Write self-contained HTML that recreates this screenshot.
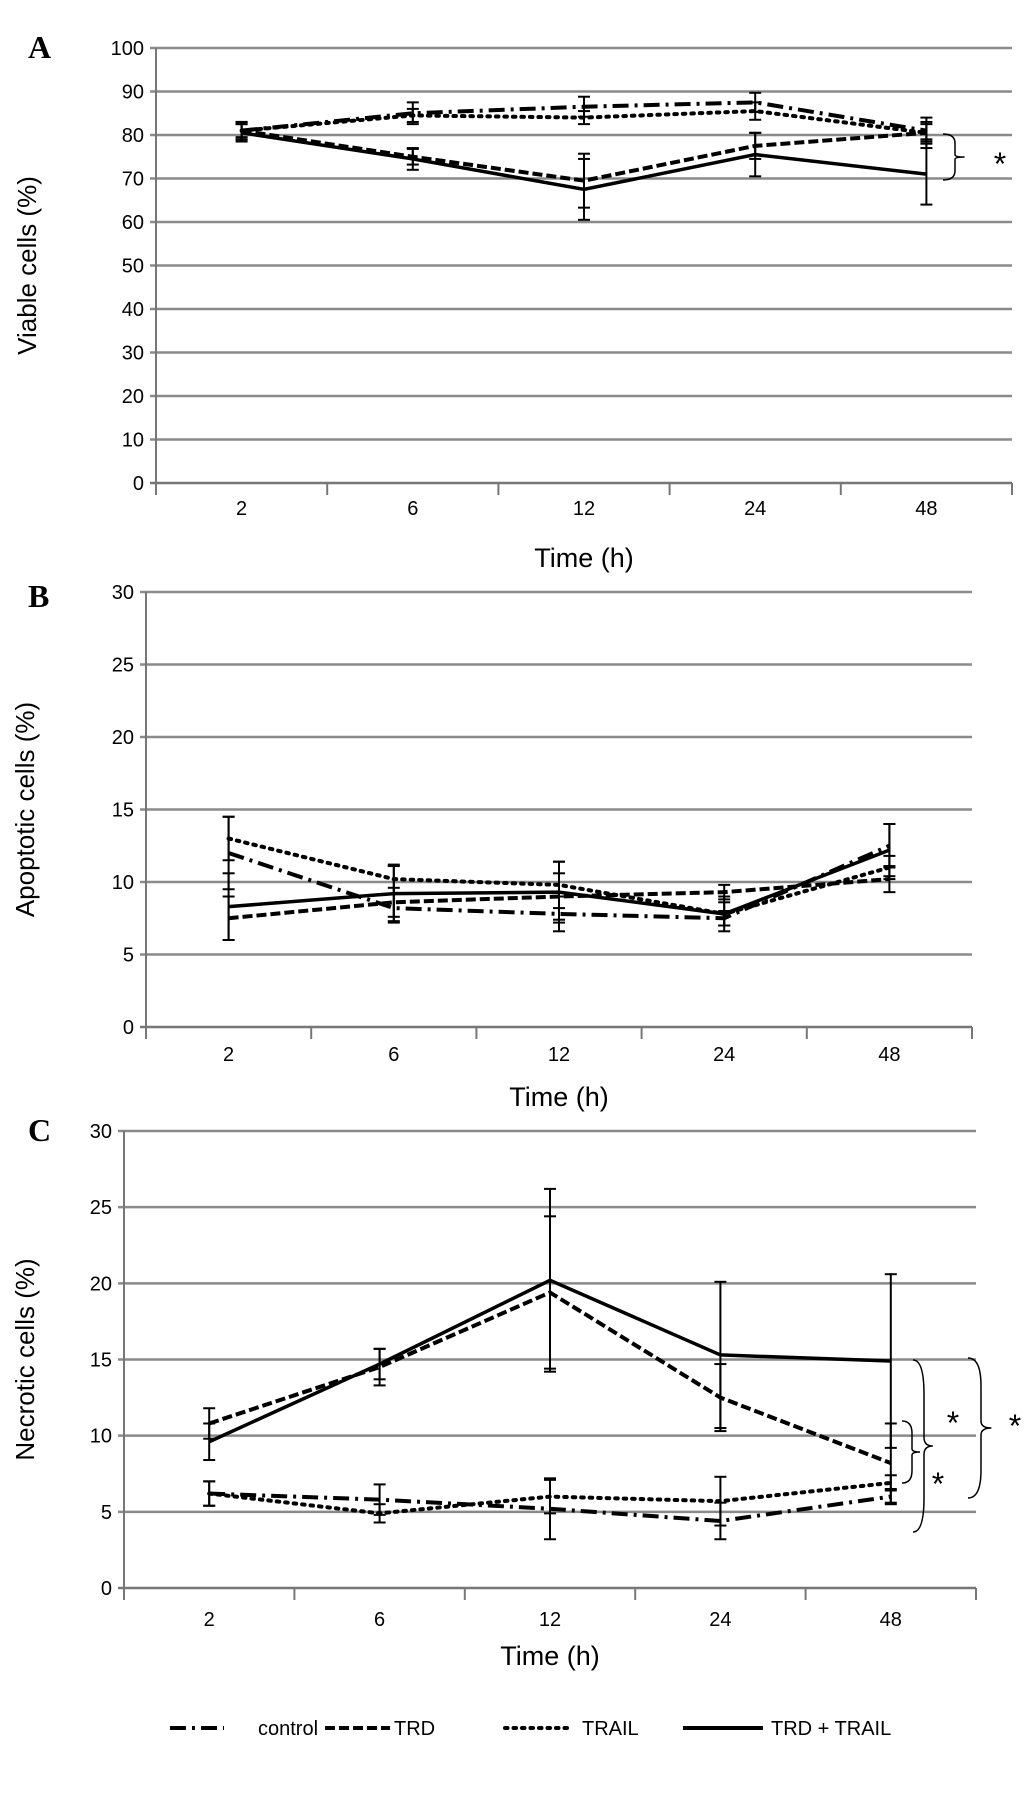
<!DOCTYPE html>
<html><head><meta charset="utf-8"><style>
html,body{margin:0;padding:0;background:#fff;}
svg{display:block;}
.tick{font-family:"Liberation Sans Narrow","Liberation Sans",sans-serif;font-size:20px;fill:#000;}
.ttl{font-family:"Liberation Sans Narrow","Liberation Sans",sans-serif;font-size:27px;fill:#000;}
.yt{font-family:"Liberation Sans",sans-serif;font-size:26px;fill:#000;}
.pl{font-family:"Liberation Serif",serif;font-size:32px;font-weight:bold;fill:#000;}
.star{font-family:"Liberation Sans",sans-serif;font-size:32px;fill:#000;}
</style></head><body>
<svg id="fig" width="1033" height="1793" viewBox="0 0 1033 1793" xmlns="http://www.w3.org/2000/svg"></svg>
<script>
const categories=["2","6","12","24","48"];
const seriesNames=["control","TRD","TRAIL","TRD + TRAIL"];
// Panel A
const aControl=[81,85,86.5,87.5,81];
const aTRD=[81,75,69.5,77.5,80.5];
const aTRAIL=[81,84.5,84,85.5,80.5];
const aCombo=[80.5,74.5,67.5,75.5,71];
const aControlErr=[2,2.5,2.3,2.2,2];
const aTRDErr=[1.5,1.8,6.2,3,3.5];
const aTRAILErr=[2,1.5,1.5,2,2];
const aComboErr=[2,2.5,7,5,7];
const aTicks=[0,10,20,30,40,50,60,70,80,90,100];
// Panel B
const bControl=[12,8.2,7.8,7.5,12.5];
const bTRD=[7.5,8.6,9,9.3,10.2];
const bTRAIL=[13,10.2,9.8,7.8,11];
const bCombo=[8.3,9.2,9.3,7.8,12.2];
const bControlErr=[2.5,1,1.2,0.5,1.5];
const bTRDErr=[1.5,1,1.6,0.5,0.9];
const bTRAILErr=[1.5,1,1.6,0.8,0.8];
const bComboErr=[2.3,1.9,2.1,1.2,1.8];
const bTicks=[0,5,10,15,20,25,30];
// Panel C
const cControl=[6.2,5.8,5.2,4.4,6.0];
const cTRD=[10.8,14.5,19.4,12.5,8.2];
const cTRAIL=[6.2,4.9,6,5.7,6.9];
const cCombo=[9.6,14.7,20.2,15.3,14.9];
const cControlErr=[0.8,1,2,1.2,0.5];
const cTRDErr=[1,1.2,5,2.2,2.6];
const cTRAILErr=[0.8,0.6,1.1,1.6,0.5];
const cComboErr=[1.2,1,6,4.8,5.7];
const cTicks=[0,5,10,15,20,25,30];

const NS="http://www.w3.org/2000/svg";
const svg=document.getElementById('fig');
function mk(tag,attrs,parent){const e=document.createElementNS(NS,tag);for(const k in attrs)e.setAttribute(k,attrs[k]);(parent||svg).appendChild(e);return e;}
const dashes=["16,6,3,6","10,4","2.5,6",""];
const caps=["butt","butt","round","butt"];

function panel(cfg){
  const g=mk('g',{});
  
  
  const L=cfg.left,R=cfg.right,T=cfg.top,B=cfg.bottom,max=cfg.max;
  const cw=(R-L)/categories.length;
  const x=i=>L+cw*(i+0.5);
  const y=v=>B-(v/max)*(B-T);
  cfg.ticks.forEach(t=>{
    const ln=mk('line',{x1:L-6,x2:R,y1:y(t),y2:y(t),stroke:t===0?'#777':'#8a8a8a','stroke-width':2.5},g);
    
    
    const tx=mk('text',{x:L-12,y:y(t)+7,'text-anchor':'end',class:'tick'},g);
    tx.textContent=t;
    
    
  });
  const ax=mk('line',{x1:L,x2:L,y1:T,y2:B+10,stroke:'#777','stroke-width':2},g);
  
  
  for(let i=0;i<=categories.length;i++){
    const tk=mk('line',{x1:L+cw*i,x2:L+cw*i,y1:B,y2:B+12,stroke:'#777','stroke-width':2},g);
    
    
  }
  categories.forEach((c,i)=>{
    const tx=mk('text',{x:x(i),y:cfg.xlabY,'text-anchor':'middle',class:'tick'},g);
    tx.textContent=c;
    
    
  });
  const xt=mk('text',{x:(L+R)/2,y:cfg.xtitleY,'text-anchor':'middle',class:'ttl'},g);
  xt.textContent='Time (h)';
  
  
  const yt=mk('text',{x:0,y:0,'text-anchor':'middle',class:'yt',transform:`translate(${cfg.ytitleX},${(T+B)/2}) rotate(-90)`},g);
  yt.textContent=cfg.ytitle;
  
  
  const pl=mk('text',{x:cfg.lx,y:cfg.ly,class:'pl'},g);
  pl.textContent=cfg.letter;
  
  
  cfg.series.forEach((s,si)=>{
    const eg=mk('g',{},g);
    
    
    s.forEach((v,i)=>{
      const e=cfg.errs[si][i];
      mk('line',{x1:x(i),x2:x(i),y1:y(v+e),y2:y(v-e),stroke:'#000','stroke-width':2},eg);
      mk('line',{x1:x(i)-6,x2:x(i)+6,y1:y(v+e),y2:y(v+e),stroke:'#000','stroke-width':2},eg);
      mk('line',{x1:x(i)-6,x2:x(i)+6,y1:y(v-e),y2:y(v-e),stroke:'#000','stroke-width':2},eg);
    });
    const p=mk('polyline',{points:s.map((v,i)=>x(i)+','+y(v)).join(' '),fill:'none',stroke:'#000','stroke-width':si===3?3.5:4,'stroke-dasharray':dashes[si],'stroke-linecap':caps[si]},g);
    
    
  });
  return g;
}
function brace(x,y1,y2,w,name){
  const m=(y1+y2)/2;
  const p=mk('path',{d:`M${x},${y1} q${w},0 ${w},${(m-y1)*0.4} l0,${(m-y1)*0.5} q0,${(m-y1)*0.1} ${w*0.8},${(m-y1)*0.1} q${-w*0.8},0 ${-w*0.8},${(y2-m)*0.1} l0,${(y2-m)*0.5} q0,${(y2-m)*0.4} ${-w},${(y2-m)*0.4}`,fill:'none',stroke:'#000','stroke-width':1.5});
  
  
}
function star(x,y){
  const t=mk('text',{x:x,y:y,class:'star','text-anchor':'middle'});
  t.textContent='*';
  
  
}
panel({name:'panel-a-viable',letter:'A',lx:28,ly:58,left:156,right:1012,top:48,bottom:483,max:100,ticks:aTicks,xlabY:515,xtitleY:567,ytitleX:36,ytitle:'Viable cells (%)',series:[aControl,aTRD,aTRAIL,aCombo],errs:[aControlErr,aTRDErr,aTRAILErr,aComboErr]});
panel({name:'panel-b-apoptotic',letter:'B',lx:28,ly:607,left:146,right:972,top:592,bottom:1027,max:30,ticks:bTicks,xlabY:1061,xtitleY:1106,ytitleX:34,ytitle:'Apoptotic cells (%)',series:[bControl,bTRD,bTRAIL,bCombo],errs:[bControlErr,bTRDErr,bTRAILErr,bComboErr]});
panel({name:'panel-c-necrotic',letter:'C',lx:28,ly:1141,left:124,right:976,top:1131,bottom:1588,max:30,ticks:cTicks,xlabY:1626,xtitleY:1665,ytitleX:34,ytitle:'Necrotic cells (%)',series:[cControl,cTRD,cTRAIL,cCombo],errs:[cControlErr,cTRDErr,cTRAILErr,cComboErr]});
brace(943,134,180,12,'brace-a');star(1000,175);
brace(902,1421,1483,10,'brace-c-inner');star(938,1495);
brace(913,1360,1532,11,'brace-c-middle');star(953,1434);
brace(968,1358,1498,13,'brace-c-outer');star(1015,1437);
// legend
const lg=mk('g',{});


const legX=[[170,224,258],[325,390,394],[505,568,582],[683,763,771]];
seriesNames.forEach((n,i)=>{
  const e=mk('g',{},lg);
  
  
  mk('line',{x1:legX[i][0],x2:legX[i][1],y1:1728,y2:1728,stroke:'#000','stroke-width':4,'stroke-dasharray':dashes[i],'stroke-linecap':caps[i]},e);
  const t=mk('text',{x:legX[i][2],y:1735,class:'tick'},e);
  t.textContent=n;
});
</script>
</body></html>
